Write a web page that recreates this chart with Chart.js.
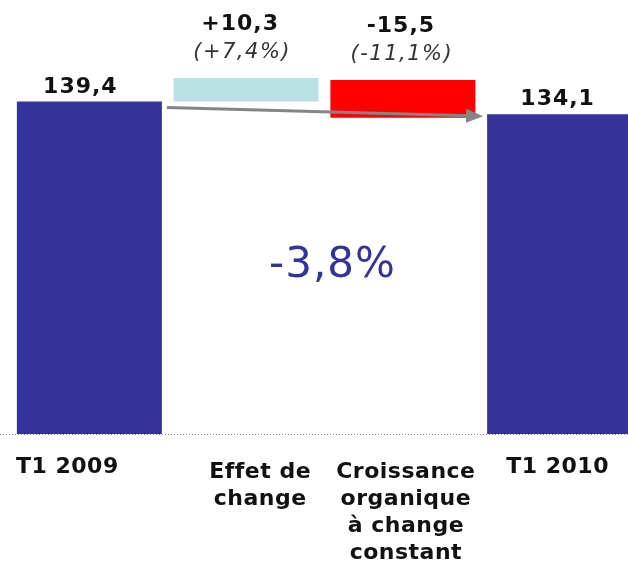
<!DOCTYPE html>
<html>
<head>
<meta charset="utf-8">
<script src="https://cdn.jsdelivr.net/npm/chart.js@4/dist/chart.umd.min.js"></script>
<style>
    html, body { margin: 0; padding: 0; background: #fff; overflow: hidden; }
    #wrap { position: absolute; left: 0; top: 0; width: 640px; height: 566px; }
</style>
</head>
<body>
<div id="wrap"><canvas id="chart" width="640" height="566"></canvas></div>
<script>
// Chart data
const categories = [["T1 2009"], ["Effet de", "change"], ["Croissance", "organique", "à change", "constant"], ["T1 2010"]];
const barStart = [0, 139.4, 132.6, 0];
const barEnd = [139.4, 149.3, 148.4, 134.1];
const valueLabels = ["139,4", "+10,3", "-15,5", "134,1"];
const percentLabels = ["", "(+7,4%)", "(-11,1%)", ""];
const totalChange = "-3,8%";
const barColors = ["#333399", "#b9e0e3", "#ff0000", "#333399"];

const FONT = "'DejaVu Sans', Verdana, sans-serif";

// Draws baseline, arrow and all the text around the bars
const annotations = {
    id: "annotations",
    beforeDatasetsDraw(chart) {
        const ctx = chart.ctx;
        const y0 = chart.scales.y.getPixelForValue(0);
        ctx.save();
        ctx.strokeStyle = "#8a8a8a";
        ctx.lineWidth = 1;
        ctx.setLineDash([1, 2]);
        ctx.beginPath();
        ctx.moveTo(0, y0 + 0.5);
        ctx.lineTo(628, y0 + 0.5);
        ctx.stroke();
        ctx.restore();
    },
    afterDatasetsDraw(chart) {
        const ctx = chart.ctx;
        const bars = chart.getDatasetMeta(0).data;
        const x = chart.scales.x;
        const y = chart.scales.y;

        // Arrow from first to last bar
        const x1 = bars[0].x + bars[0].width / 2 + 5;
        const y1 = bars[0].y + 6;
        const x2 = bars[3].x - bars[3].width / 2 - 4;
        const y2 = bars[3].y + 2;
        const ang = Math.atan2(y2 - y1, x2 - x1);
        ctx.save();
        ctx.strokeStyle = "#858585";
        ctx.fillStyle = "#858585";
        ctx.lineWidth = 3;
        ctx.beginPath();
        ctx.moveTo(x1, y1);
        ctx.lineTo(x2 - 14 * Math.cos(ang), y2 - 14 * Math.sin(ang));
        ctx.stroke();
        ctx.beginPath();
        ctx.moveTo(x2, y2);
        ctx.lineTo(x2 - 17 * Math.cos(ang) + 7 * Math.sin(ang), y2 - 17 * Math.sin(ang) - 7 * Math.cos(ang));
        ctx.lineTo(x2 - 17 * Math.cos(ang) - 7 * Math.sin(ang), y2 - 17 * Math.sin(ang) + 7 * Math.cos(ang));
        ctx.closePath();
        ctx.fill();
        ctx.restore();

        ctx.save();
        ctx.textAlign = "center";
        ctx.textBaseline = "alphabetic";

        // Value labels above bars
        const valueNudge = [-9, -6, -2, -2];
        const pctNudge = [0, -4, -1, 0];
        ctx.letterSpacing = "1px";
        valueLabels.forEach((label, i) => {
            const top = y.getPixelForValue(Math.max(barStart[i], barEnd[i]));
            const cx = x.getPixelForValue(i);
            ctx.font = "bold 22px " + FONT;
            ctx.fillStyle = "#111";
            if (percentLabels[i]) {
                ctx.fillText(label, cx + valueNudge[i], top - 48);
                ctx.font = "italic 21px " + FONT;
                ctx.fillStyle = "#333";
                ctx.letterSpacing = "1.5px";
                ctx.fillText(percentLabels[i], cx + pctNudge[i], top - 20);
                ctx.letterSpacing = "1px";
            } else {
                ctx.fillText(label, cx + valueNudge[i], top - 9);
            }
        });

        // Category labels
        const catNudge = [-22, 14, 3, -2];
        const catTop = [473, 478, 478, 473];
        ctx.font = "bold 22px " + FONT;
        ctx.fillStyle = "#111";
        ctx.letterSpacing = "0.5px";
        categories.forEach((lines, i) => {
            const cx = x.getPixelForValue(i) + catNudge[i];
            lines.forEach((line, j) => {
                ctx.fillText(line, cx, catTop[i] + j * 27);
            });
        });

        // Overall change
        ctx.letterSpacing = "1px";
        ctx.font = "42px " + FONT;
        ctx.fillStyle = "#333399";
        ctx.fillText(totalChange, (x.getPixelForValue(1) + x.getPixelForValue(2)) / 2 + 8, 277);
        ctx.restore();
    },
};

const ctx = document.getElementById("chart").getContext("2d");
new Chart(ctx, {
    type: "bar",
    data: {
        labels: categories.map((c) => c.join(" ")),
        datasets: [
            {
                data: barStart.map((s, i) => [s, barEnd[i]]),
                backgroundColor: barColors,
                borderWidth: 0,
                barPercentage: 0.925,
                categoryPercentage: 1,
            },
        ],
    },
    options: {
        responsive: false,
        devicePixelRatio: 1,
        animation: false,
        layout: { padding: { left: 11, right: 2, top: 0, bottom: 132 } },
        plugins: {
            legend: { display: false },
            tooltip: { enabled: false },
        },
        scales: {
            x: { display: false },
            y: { display: false, min: 0, max: 182 },
        },
    },
    plugins: [annotations],
});
</script>
</body>
</html>
